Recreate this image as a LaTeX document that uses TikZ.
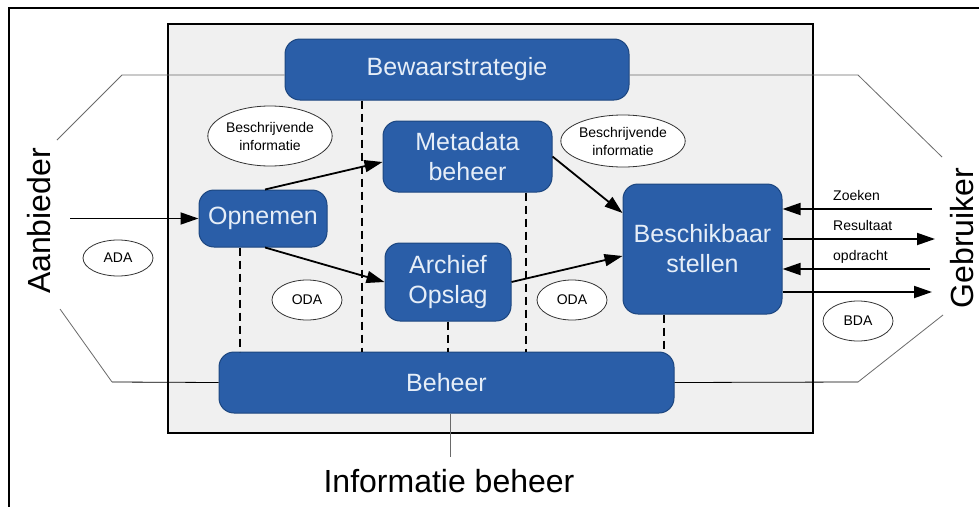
\documentclass[tikz,border=0pt]{standalone}
\usepackage{fontspec}
\setmainfont{Liberation Sans}
\usetikzlibrary{arrows.meta,calc,shapes.geometric}
\definecolor{boxblue}{HTML}{2A5EA8}
\definecolor{boxedge}{HTML}{1C4680}
\definecolor{boxtext}{HTML}{E6EEF8}
\definecolor{innergray}{HTML}{F0F0F0}
\definecolor{ovaledge}{HTML}{333333}
\definecolor{hexgray}{HTML}{6A6A6A}
\begin{document}
\begin{tikzpicture}[x=1pt,y=-1pt,
  bluebox/.style={draw=boxedge, line width=1pt, fill=boxblue, rounded corners=15pt,
    text=boxtext, font=\fontsize{25}{30}\selectfont, align=center, inner sep=0pt},
  oval/.style={ellipse, draw=ovaledge, line width=0.8pt, fill=white, inner sep=0pt,
    font=\fontsize{14}{18}\selectfont, align=center},
  flow/.style={line width=1.8pt, -{Triangle[length=18pt,width=12pt]}},
  dashline/.style={dash pattern=on 8pt off 5pt, line width=1.2pt},
  hexline/.style={draw=hexgray, line width=0.8pt},
  smalllabel/.style={font=\fontsize{14}{16}\selectfont, anchor=base west, inner sep=0pt},
  biglabel/.style={font=\fontsize{32}{36}\selectfont, inner sep=0pt, rotate=90}]
\useasboundingbox (0,0) rectangle (979,506);
\fill[white] (0,0) rectangle (979,506);
% outer frame
\draw[line width=2pt] (9,520) -- (9,8) -- (995,8);
% inner box
\draw[line width=1.8pt, fill=innergray] (168,24) rectangle (813,433);

% blue boxes
\node[bluebox, minimum width=344pt, minimum height=61pt] (bew) at (457,69.5) {Bewaarstrategie};
\node[bluebox, minimum width=169pt, minimum height=71pt] (meta) at (467.5,156.5) {Metadata\\beheer};
\node[bluebox, minimum width=128pt, minimum height=57pt] (opn) at (263,218.5) {Opnemen};
\node[bluebox, minimum width=126pt, minimum height=78pt] (arch) at (448,282) {Archief\\Opslag};
\node[bluebox, minimum width=159pt, minimum height=130pt] (besch) at (702.5,249) {Beschikbaar\\stellen};
\node[bluebox, minimum width=455pt, minimum height=61pt] (beh) at (446.5,382.5) {Beheer};

% ellipses
\node[oval, minimum width=115pt, minimum height=60pt] (bi1) at (270,136) {Beschrijvende\\informatie};
\node[oval, minimum width=114pt, minimum height=52pt] (bi2) at (623,141) {Beschrijvende\\informatie};
\node[oval, minimum width=70pt, minimum height=36pt] (ada) at (118,258) {ADA};
\node[oval, minimum width=70pt, minimum height=40pt] (oda1) at (307,300) {ODA};
\node[oval, minimum width=70pt, minimum height=40pt] (oda2) at (572,300) {ODA};
\node[oval, minimum width=70pt, minimum height=40pt] (bda) at (858,321) {BDA};

% side labels
\node[biglabel] (aanb) at (39,221) {Aanbieder};
\node[biglabel] (gebr) at (962,238) {Gebruiker};
\node[font=\fontsize{32}{36}\selectfont, inner sep=0pt, anchor=base] (ib) at (449,492) {Informatie beheer};

% hexagon frame lines
\coordinate (h1) at (122,75);
\coordinate (h2) at (57,140);
\coordinate (h3) at (858,75);
\coordinate (h4) at (942,157);
\coordinate (h5) at (112,382);
\coordinate (h6) at (60,309);
\coordinate (h7) at (858,382);
\coordinate (h8) at (943,315);
\draw[hexline] ([yshift=-5.5pt]bew.west) -- (h1) -- (h2);
\draw[hexline] ([yshift=-5.5pt]bew.east) -- (h3) -- (h4);
\draw[line width=0.8pt] (beh.west) -- (h5);
\draw[hexline] (h5) -- (h6);
\draw[line width=0.8pt] (beh.east) -- (h7);
\draw[hexline] (h7) -- (h8);
\coordinate (ibtop) at (450,457);
\draw[hexline] ([xshift=3.5pt]beh.south) -- (ibtop);

% dashed lines
\coordinate (d1) at ($(bew.south)+(-95,0)$);
\coordinate (d2) at ($(opn.south)+(-23,0)$);
\coordinate (d3) at (arch.south);
\coordinate (d4) at ($(meta.south)+(58.5,0)$);
\coordinate (d5) at ($(besch.south)+(-38.5,0)$);
\draw[dashline] (d1) -- (d1 |- beh.north);
\draw[dashline] (d2) -- (d2 |- beh.north);
\draw[dashline] (d3) -- (d3 |- beh.north);
\draw[dashline] (d4) -- (d4 |- beh.north);
\draw[dashline] (d5) -- (d5 |- beh.north);

% flows
\coordinate (ain) at (70,218.5);
\draw[flow] (ain) -- (opn.west);
\draw[flow] ([xshift=2pt]opn.north) -- ([yshift=-5.5pt]meta.west);
\draw[flow] ([xshift=2pt]opn.south) -- (arch.west);
\draw[flow] (meta.east) -- ([yshift=36pt]besch.west);
\draw[flow] (arch.east) -- ([yshift=-7pt]besch.west);

% user side arrows
\coordinate (z) at (932,209);
\coordinate (r) at (935,239);
\coordinate (o) at (930,269);
\coordinate (b) at (932,292);
\draw[flow] (z) -- (z -| besch.east);
\draw[flow] (r -| besch.east) -- (r);
\draw[flow] (o) -- (o -| besch.east);
\draw[flow] (b -| besch.east) -- (b);
\node[smalllabel] (lz) at (833,200) {Zoeken};
\node[smalllabel] (lr) at (833,230) {Resultaat};
\node[smalllabel] (lo) at (833,260) {opdracht};
\end{tikzpicture}
\end{document}
